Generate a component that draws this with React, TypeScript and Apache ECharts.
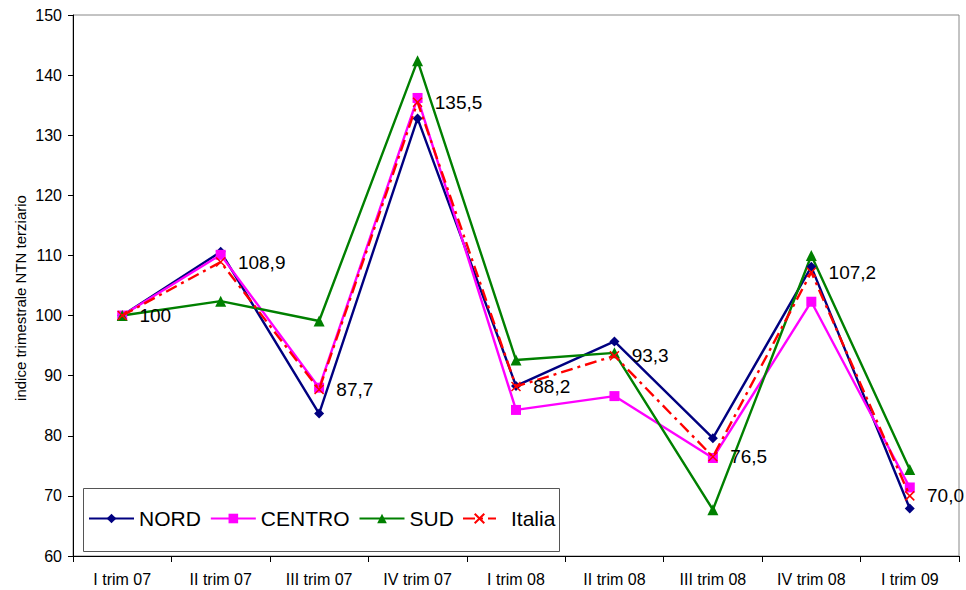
import React, { useEffect, useRef } from "react";
import * as echarts from "echarts";

const categories = ["I trim 07", "II trim 07", "III trim 07", "IV trim 07", "I trim 08", "II trim 08", "III trim 08", "IV trim 08", "I trim 09"];
const nord = [100, 110.6, 83.7, 132.8, 88.3, 95.7, 79.6, 108.1, 67.9];
const centro = [100, 110.1, 88.0, 136.2, 84.3, 86.6, 76.3, 102.3, 71.4];
const sud = [100, 102.4, 99.1, 142.4, 92.6, 93.8, 67.7, 110.0, 74.4];
const italia = [100, 108.9, 87.7, 135.5, 88.2, 93.3, 76.5, 107.2, 70.0];
const yTicks = { min: 60, max: 150, interval: 10 };
const yAxisTitle = "indice trimestrale NTN terziario";

const FONT = "Liberation Sans, Arial, sans-serif";

export default function App() {
  const ref = useRef<HTMLDivElement>(null);
  useEffect(() => {
    if (!ref.current) return;
    const chart = echarts.init(ref.current, null, { renderer: "svg" });
    const line = (name: string, data: number[], color: string, symbol: string, size: number, extra: any = {}) => ({
      name,
      type: "line",
      data,
      symbol,
      symbolSize: size,
      showSymbol: true,
      lineStyle: { color, width: 2.4, ...(extra.lineStyle || {}) },
      itemStyle: { color, borderColor: color, borderWidth: extra.borderWidth || 0 },
      label: extra.label,
      z: extra.z || 2,
    });
    const legendText = { color: "#000", fontSize: 21, fontFamily: FONT };
    chart.setOption({
      animation: false,
      textStyle: { fontFamily: FONT },
      grid: { left: 73, top: 15, right: 7, bottom: 34, show: true, borderColor: "#888", borderWidth: 1 },
      xAxis: {
        type: "category",
        data: categories,
        boundaryGap: true,
        axisLine: { lineStyle: { color: "#000", width: 1 } },
        axisTick: { show: true, length: 6, lineStyle: { color: "#000" } },
        axisLabel: { color: "#000", fontSize: 16, fontFamily: FONT, margin: 15 },
        splitLine: { show: false },
      },
      yAxis: {
        type: "value",
        min: yTicks.min,
        max: yTicks.max,
        interval: yTicks.interval,
        axisLine: { show: true, lineStyle: { color: "#000", width: 1 } },
        axisTick: { show: true, length: 5, lineStyle: { color: "#000" } },
        axisLabel: { color: "#000", fontSize: 16, fontFamily: FONT, margin: 11 },
        splitLine: { show: false },
      },
      graphic: [
        {
          type: "text",
          x: 20,
          y: 298,
          rotation: Math.PI / 2,
          style: { text: yAxisTitle, fill: "#000", font: `15px ${FONT}`, align: "center", verticalAlign: "middle" },
        },
        {
          type: "rect",
          shape: { x: 83.5, y: 488.5, width: 476, height: 63 },
          style: { fill: "#fff", stroke: "#555", lineWidth: 1 },
          z: 5,
        },
      ],
      legend: [
        {
          left: 88,
          top: 508,
          padding: 0,
          itemGap: 9,
          itemWidth: 45,
          itemHeight: 12,
          textStyle: legendText,
          data: ["NORD", "CENTRO", "SUD"],
          z: 10,
        },
        {
          left: 462,
          top: 508,
          padding: 0,
          itemWidth: 33,
          itemHeight: 12,
          textStyle: { ...legendText, padding: [0, 0, 0, 10] },
          data: ["Italia"],
          z: 10,
        },
      ],
      series: [
        line("NORD", nord, "#000080", "diamond", 10),
        line("CENTRO", centro, "#FF00FF", "rect", 10),
        line("SUD", sud, "#008000", "triangle", 11),
        line("Italia", italia, "#FF0000", "path://M0,0L10,10M10,0L0,10", 9, {
          lineStyle: { type: [12, 5, 3, 5] },
          borderWidth: 1.5,
          z: 3,
          label: {
            show: true,
            position: "right",
            distance: 12,
            color: "#000",
            fontSize: 19,
            fontFamily: FONT,
            formatter: (p: any) => (p.dataIndex === 0 ? String(p.value) : Number(p.value).toFixed(1).replace(".", ",")),
          },
        }),
      ],
    });
    return () => chart.dispose();
  }, []);
  return <div ref={ref} style={{ position: "absolute", left: 0, top: 0, width: 966, height: 590 }} />;
}
